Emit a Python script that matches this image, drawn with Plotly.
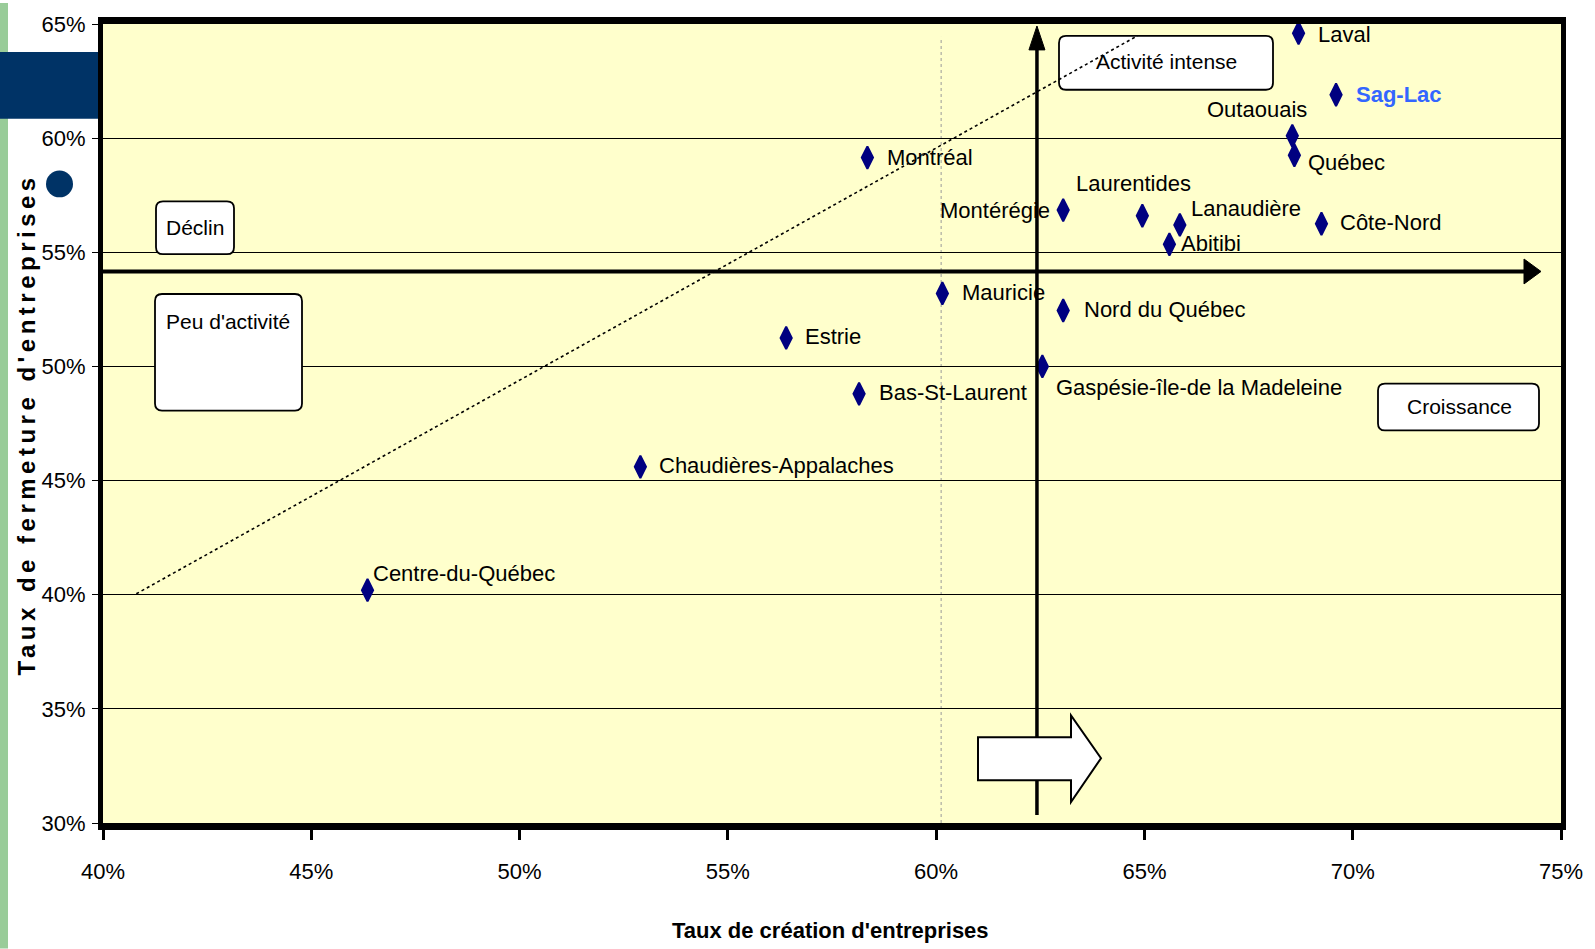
import plotly.graph_objects as go

# ---------------- data ----------------
regions = ["Laval", "Sag-Lac", "Outaouais", "Québec", "Montréal", "Montérégie",
           "Laurentides", "Lanaudière", "Côte-Nord", "Abitibi", "Mauricie",
           "Nord du Québec", "Estrie", "Gaspésie-île-de la Madeleine",
           "Bas-St-Laurent", "Chaudières-Appalaches", "Centre-du-Québec"]
taux_creation = [68.7, 69.6, 68.55, 68.6, 58.35, 63.05, 64.95, 65.85, 69.25,
                 65.6, 60.15, 63.05, 56.4, 62.55, 58.15, 52.9, 46.35]
taux_fermeture = [64.6, 61.9, 60.1, 59.25, 59.15, 56.85, 56.6, 56.2, 56.25,
                  55.35, 53.2, 52.45, 51.25, 50.0, 48.8, 45.6, 40.2]
highlight = "Sag-Lac"

x_ticks = [40, 45, 50, 55, 60, 65, 70, 75]
y_ticks = [30, 35, 40, 45, 50, 55, 60, 65]
x_tick_labels = [f"{v}%" for v in x_ticks]
y_tick_labels = [f"{v}%" for v in y_ticks]

# quadrant dividers / trend (chart units, %)
divider_x = 62.42
divider_y = 54.16
mean_x = 60.12
trend_start = (40.8, 40.04)
trend_end = (64.84, 64.49)

# ---------------- style ----------------
FONT = "Liberation Sans, Arial, sans-serif"
W, H = 1595, 949
L, R, T, B = 103, 34, 21, 126
X0, X1 = 40, 75
Y0, Y1 = 30, 65
pw, ph = W - L - R, H - T - B


def dx(px):  # pixel -> x data
    return X0 + (px - L) / pw * (X1 - X0)


def dy(py):  # pixel -> y data
    return Y0 + (H - B - py) / ph * (Y1 - Y0)


def px_x(p):  # pixel -> paper
    return (p - L) / pw


def px_y(p):
    return (H - B - p) / ph


# label placement: (xanchor, xshift, yshift) in pixels
label_style = {
    "Laval": ("left", 17, -1), "Sag-Lac": ("left", 18, 0), "Outaouais": ("right", 17, 26),
    "Québec": ("left", 12, -7), "Montréal": ("left", 18, 0), "Montérégie": ("right", -11, 0),
    "Laurentides": ("center", -9, 32), "Lanaudière": ("left", 9, 16),
    "Côte-Nord": ("left", 17, 1), "Abitibi": ("left", 10, 1), "Mauricie": ("left", 18, 1),
    "Nord du Québec": ("left", 19, 1), "Estrie": ("left", 17, 1),
    "Gaspésie-île-de la Madeleine": ("left", 12, -21), "Bas-St-Laurent": ("left", 18, 1),
    "Chaudières-Appalaches": ("left", 17, 1), "Centre-du-Québec": ("left", 3, 17),
}

fig = go.Figure()
fig.add_trace(go.Scatter(
    x=taux_creation, y=taux_fermeture, mode="markers",
    marker=dict(symbol="diamond-tall", size=16, color="#000080",
                line=dict(color="#000080", width=2)),
    hoverinfo="skip", showlegend=False, cliponaxis=False,
))

annotations = []
for name, xv, yv in zip(regions, taux_creation, taux_fermeture):
    xa, xs, ys = label_style[name]
    hl = name == highlight
    annotations.append(dict(
        x=xv, y=yv, xref="x", yref="y", text=f"<b>{name}</b>" if hl else name,
        showarrow=False, xanchor=xa, yanchor="middle", xshift=xs, yshift=ys,
        font=dict(family=FONT, size=22, color="#3366FF" if hl else "black")))

shapes = []


def rrect(x0p, y0p, x1p, y1p, r=7):
    xa, xb = dx(x0p), dx(x1p)
    ya, yb = dy(y1p), dy(y0p)  # ya bottom, yb top
    rx = r / pw * (X1 - X0)
    ry = r / ph * (Y1 - Y0)
    path = (f"M {xa+rx},{ya} L {xb-rx},{ya} Q {xb},{ya} {xb},{ya+ry} "
            f"L {xb},{yb-ry} Q {xb},{yb} {xb-rx},{yb} L {xa+rx},{yb} "
            f"Q {xa},{yb} {xa},{yb-ry} L {xa},{ya+ry} Q {xa},{ya} {xa+rx},{ya} Z")
    return dict(type="path", path=path, xref="x", yref="y",
                fillcolor="white", line=dict(color="black", width=1.8), layer="above")


# text boxes
boxes = [
    ("Activité intense", (1059, 33, 1273, 87), (1166, 59)),
    ("Déclin", (156, 199, 234, 252), (195, 225)),
    ("Peu d'activité", (155, 292, 302, 409), (228, 320)),
    ("Croissance", (1378, 382, 1539, 429), (1459, 405)),
]
for _, rect, _c in boxes:
    shapes.append(rrect(*rect))

# gray dotted mean line
shapes.append(dict(type="line", xref="x", yref="y", x0=mean_x, x1=mean_x, y0=Y0, y1=dy(34),
                   line=dict(color="#9a9a9a", width=1, dash="dot"), layer="below"))
# trendline
shapes.append(dict(type="line", xref="x", yref="y", x0=trend_start[0], y0=trend_start[1],
                   x1=trend_end[0], y1=trend_end[1],
                   line=dict(color="black", width=1.6, dash="dot"), layer="above"))
# vertical divider with arrow head
shapes.append(dict(type="line", xref="x", yref="y", x0=divider_x, x1=divider_x,
                   y0=dy(815), y1=dy(40), line=dict(color="black", width=3.5), layer="above"))
hx = 8 / pw * (X1 - X0)
shapes.append(dict(type="path", xref="x", yref="y",
                   path=f"M {divider_x-hx},{dy(47)} L {divider_x},{dy(23)} L {divider_x+hx},{dy(47)} Z",
                   fillcolor="black", line=dict(color="black", width=1), layer="above"))
# horizontal divider with arrow head
shapes.append(dict(type="line", xref="x", yref="y", x0=X0, x1=dx(1528),
                   y0=divider_y, y1=divider_y, line=dict(color="black", width=4), layer="above"))
hy = 12.5 / ph * (Y1 - Y0)
shapes.append(dict(type="path", xref="x", yref="y",
                   path=f"M {dx(1524)},{divider_y-hy} L {dx(1541)},{divider_y} L {dx(1524)},{divider_y+hy} Z",
                   fillcolor="black", line=dict(color="black", width=1), layer="above"))
# block arrow
bx0, bx1, bx2 = dx(978), dx(1071), dx(1101)
by0, by1, byt, byb, bym = dy(780), dy(737), dy(715), dy(802), dy(758)
shapes.append(dict(type="path", xref="x", yref="y",
                   path=(f"M {bx0},{by0} L {bx1},{by0} L {bx1},{byb} L {bx2},{bym} "
                         f"L {bx1},{byt} L {bx1},{by1} L {bx0},{by1} Z"),
                   fillcolor="white", line=dict(color="black", width=2), layer="above"))

# page decorations (paper coords)
shapes.append(dict(type="rect", xref="paper", yref="paper", x0=px_x(0), x1=px_x(8),
                   y0=px_y(H), y1=px_y(0), fillcolor="#99CC99", line=dict(width=0), layer="below"))
shapes.append(dict(type="rect", xref="paper", yref="paper", x0=px_x(0), x1=px_x(101),
                   y0=px_y(116), y1=px_y(49), fillcolor="#003366", line=dict(width=0), layer="below"))
shapes.append(dict(type="circle", xref="paper", yref="paper", x0=px_x(46), x1=px_x(73),
                   y0=px_y(195), y1=px_y(168), fillcolor="#003366", line=dict(width=0), layer="below"))

for txt, _r, (cx, cy) in boxes:
    annotations.append(dict(x=dx(cx), y=dy(cy), xref="x", yref="y", text=txt, showarrow=False,
                            font=dict(family=FONT, size=21, color="black"),
                            xanchor="center", yanchor="middle"))

annotations.append(dict(x=px_x(830), y=px_y(931), xref="paper", yref="paper",
                        text="Taux de création d'entreprises", showarrow=False,
                        font=dict(family=FONT, size=22, color="black", weight="bold"),
                        xanchor="center", yanchor="middle"))
annotations.append(dict(x=px_x(26), y=px_y(423), xref="paper", yref="paper",
                        text="<span style=\"letter-spacing:4.5px\">Taux de fermeture d'entreprises</span>",
                        showarrow=False, textangle=-90,
                        font=dict(family=FONT, size=24, color="black", weight="bold"),
                        xanchor="center", yanchor="middle"))

fig.update_layout(
    width=W, height=H,
    margin=dict(l=L, r=R, t=T, b=B, pad=0),
    paper_bgcolor="white", plot_bgcolor="#FFFFCC",
    shapes=shapes, annotations=annotations,
    showlegend=False,
    xaxis=dict(range=[X0, X1], tickvals=x_ticks, ticktext=x_tick_labels,
               showgrid=False, zeroline=False, showline=True, linecolor="black",
               linewidth=7, mirror=True, ticks="outside", ticklen=10, tickwidth=3,
               tickcolor="black", ticklabelstandoff=13,
               tickfont=dict(family=FONT, size=22, color="black")),
    yaxis=dict(range=[Y0, Y1], tickvals=y_ticks, ticktext=y_tick_labels,
               showgrid=True, gridcolor="black", gridwidth=1, zeroline=False,
               showline=True, linecolor="black", linewidth=5, mirror=True,
               ticks="outside", ticklen=6, tickwidth=1, tickcolor="black",
               ticklabelstandoff=2,
               tickfont=dict(family=FONT, size=22, color="black")),
)

fig.write_html("out.html", config={"displayModeBar": False},
               post_script="document.body.style.margin='0px';document.body.style.overflow='hidden';")
